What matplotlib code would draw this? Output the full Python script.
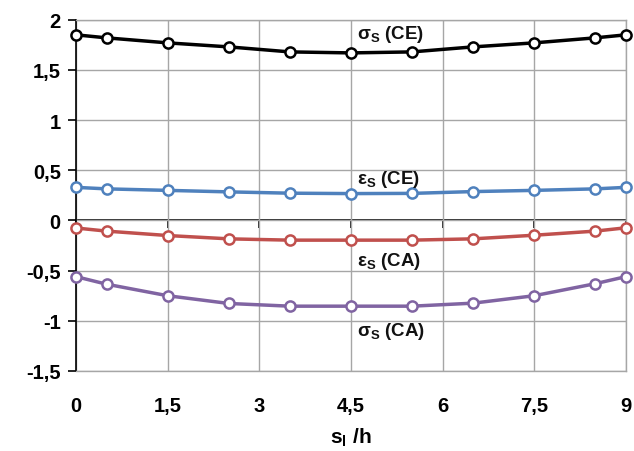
import matplotlib
matplotlib.use("Agg")
import matplotlib.pyplot as plt
import numpy as np

plt.rcParams['font.family'] = ['Liberation Sans', 'DejaVu Sans']
plt.rcParams['font.weight'] = 'bold'
plt.rcParams['mathtext.fontset'] = 'custom'
plt.rcParams['mathtext.rm'] = 'Liberation Sans:bold'
plt.rcParams['mathtext.it'] = 'Liberation Sans:bold'
plt.rcParams['mathtext.default'] = 'rm'

# data
x = [0, 0.5, 1.5, 2.5, 3.5, 4.5, 5.5, 6.5, 7.5, 8.5, 9]
sigma_ce = [1.85, 1.82, 1.77, 1.73, 1.68, 1.67, 1.68, 1.73, 1.77, 1.82, 1.85]
eps_ce = [0.33, 0.315, 0.30, 0.285, 0.272, 0.268, 0.27, 0.288, 0.30, 0.315, 0.33]
eps_ca = [-0.075, -0.106, -0.15, -0.183, -0.196, -0.196, -0.196, -0.183, -0.147, -0.106, -0.073]
sigma_ca = [-0.56, -0.635, -0.75, -0.827, -0.854, -0.854, -0.854, -0.824, -0.75, -0.63, -0.56]

xticks = [0, 1.5, 3, 4.5, 6, 7.5, 9]
yticks = [-1.5, -1, -0.5, 0, 0.5, 1, 1.5, 2]

series = [
    (sigma_ce, '#000000', r'σ$_S$ (CE)', 1.86),
    (eps_ce, '#4F81BD', r'ε$_S$ (CE)', 0.42),
    (eps_ca, '#C0504D', r'ε$_S$ (CA)', -0.40),
    (sigma_ca, '#8064A2', r'σ$_S$ (CA)', -1.10),
]

def comma(v):
    return ('%g' % v).replace('.', ',')

fig = plt.figure(figsize=(6.34, 4.52), dpi=100)
ax = fig.add_axes([0.12, 0.177, 0.867, 0.777])

for ys, col, label, ly in series:
    ax.plot(x, ys, color=col, lw=2.5, marker='o', ms=7.3, mfc='white',
            mec=col, mew=1.8, zorder=3, clip_on=False)
    ax.text(4.6, ly, label, fontsize=13.5, fontweight='bold', color='#111111',
            ha='left', va='center', zorder=4)

ax.set_xlim(0, 9)
ax.set_ylim(-1.5, 2)
ax.set_xticks(xticks)
ax.set_yticks(yticks)
ax.set_xticklabels([comma(v) for v in xticks])
ax.set_yticklabels([comma(v) for v in yticks])
ax.grid(True, color='#A6A6A6', lw=1.0)
ax.set_axisbelow(True)

for side in ['top', 'right', 'bottom']:
    ax.spines[side].set_color('#A6A6A6')
    ax.spines[side].set_linewidth(1.0)
ax.spines['left'].set_color('black')
ax.spines['left'].set_linewidth(1.2)

ax.tick_params(axis='x', length=0, pad=18, labelsize=14.5)
ax.tick_params(axis='y', length=6, width=1.2, direction='out', pad=5, labelsize=14.5)

# x axis line crossing at y = 0 with its tick marks
zero_frac = (0 - (-1.5)) / (2 - (-1.5))
sec = ax.secondary_xaxis(zero_frac)
sec.set_xticks(xticks)
sec.tick_params(length=6, width=1.2, direction='out', labelbottom=False, labeltop=False)
sec.spines['bottom'].set_color('black')
sec.spines['bottom'].set_linewidth(1.2)
sec.set_xticklabels([])

ax.set_xlabel(r's$_l$ /h', fontsize=15, fontweight='bold', labelpad=8)

fig.savefig('out.png', dpi=100)
